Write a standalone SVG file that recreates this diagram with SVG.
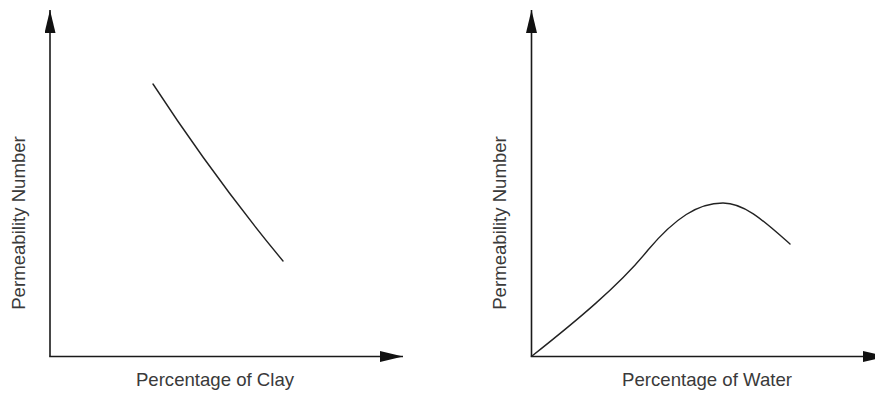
<svg xmlns="http://www.w3.org/2000/svg" width="875" height="394" viewBox="0 0 875 394">
<style>
.axis{stroke:#1a1a1a;stroke-width:1.6;fill:none;marker-end:url(#arr)}
.curve{stroke:#222;stroke-width:1.4;fill:none;stroke-linecap:round}
.lbl{font-family:"Liberation Sans",Arial,sans-serif;font-size:18.6px;fill:#3a3a3a;text-anchor:middle}
</style>
<defs>
<marker id="arr" markerUnits="userSpaceOnUse" markerWidth="24" markerHeight="12" refX="23" refY="5.5" orient="auto">
<path d="M0,0 L23,5.5 L0,11 Z" fill="#111"/>
</marker>
</defs>
<rect width="875" height="394" fill="#fff"/>
<g id="connectors">
<line class="axis" x1="50" y1="356.5" x2="50" y2="10"/>
<line class="axis" x1="49.2" y1="356.5" x2="403" y2="356.5"/>
<line class="axis" x1="531.5" y1="356.5" x2="531.5" y2="10"/>
<line class="axis" x1="530.7" y1="356.5" x2="886" y2="356.5"/>
</g>
<g id="chart-clay">
<path class="curve" d="M153,84 Q214,177.5 283,261"/>
<text class="lbl" x="215" y="386">Percentage of Clay</text>
<text class="lbl" transform="translate(25,223) rotate(-90)">Permeability Number</text>
</g>
<g id="chart-water">
<path class="curve" d="M532,356 C575,322 620,285 648,250 C675,218 698,203 723,203 C745,203 765,222 790,244"/>
<text class="lbl" x="707" y="386">Percentage of Water</text>
<text class="lbl" transform="translate(505.5,223) rotate(-90)">Permeability Number</text>
</g>
</svg>
